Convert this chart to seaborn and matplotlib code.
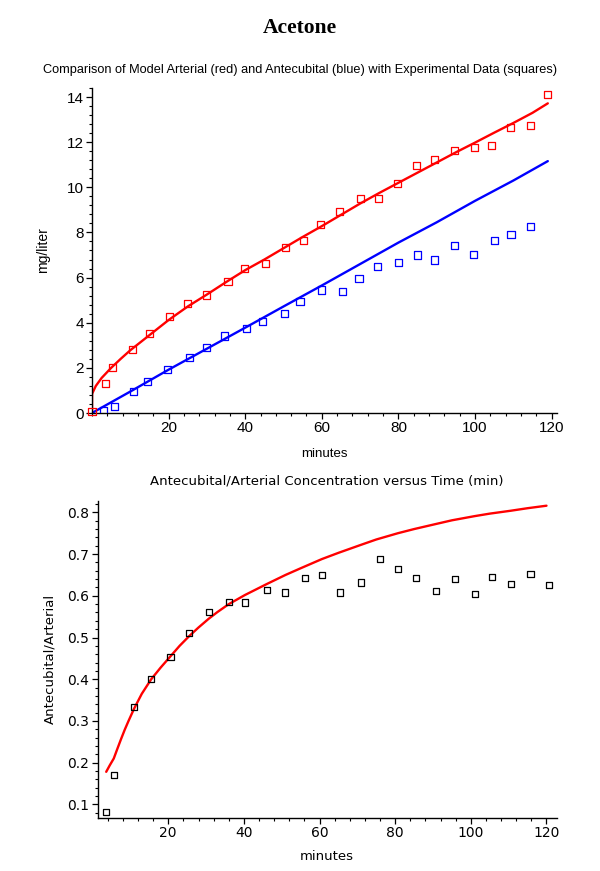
import matplotlib
matplotlib.use("Agg")
import matplotlib.pyplot as plt
from matplotlib.ticker import MultipleLocator
import seaborn as sns
import pandas as pd

sns.set_style("white")
plt.rcParams['font.family'] = ['Liberation Sans', 'DejaVu Sans']
for k in ("text.color", "axes.labelcolor", "xtick.color", "ytick.color", "axes.edgecolor"):
    plt.rcParams[k] = "black"

# ---- Top panel data (mg/liter vs minutes) ----
art_t = [0, 3.6, 5.3, 10.5, 15.1, 20.3, 24.9, 30.0, 35.5, 39.7, 45.4, 50.4, 55.1,
         59.6, 64.5, 70.0, 74.8, 79.8, 84.7, 89.5, 94.7, 99.8, 104.4, 109.2, 114.6, 118.9]
art_c = [0.05, 1.32, 2.02, 2.82, 3.53, 4.27, 4.86, 5.23, 5.82, 6.41, 6.63, 7.33, 7.66,
         8.37, 8.91, 9.50, 9.51, 10.16, 10.96, 11.22, 11.64, 11.76, 11.86, 12.67, 12.73, 14.12]

ant_t = [3.0, 5.8, 10.8, 14.4, 19.7, 25.5, 29.8, 34.5, 40.3, 44.5, 50.3, 54.3, 59.9,
         65.3, 69.7, 74.6, 80.0, 85.0, 89.3, 94.7, 99.6, 105.1, 109.4, 114.4]
ant_c = [0.09, 0.28, 0.94, 1.39, 1.91, 2.45, 2.91, 3.41, 3.74, 4.05, 4.42, 4.92, 5.45,
         5.38, 5.97, 6.51, 6.66, 7.00, 6.78, 7.41, 7.04, 7.63, 7.90, 8.27]

model_art_t = [0, 0.02, 1, 2.5, 5, 7.5, 10, 15, 20, 25, 30, 35, 40, 45, 50, 55, 60, 65, 70, 75,
               80, 85, 90, 95, 100, 105, 110, 115, 119]
model_art_c = [0, 0.85, 1.2, 1.55, 2.0, 2.4, 2.78, 3.45, 4.12, 4.72, 5.25, 5.8, 6.33, 6.8, 7.3,
               7.8, 8.28, 8.78, 9.28, 9.75, 10.2, 10.65, 11.1, 11.55, 11.98, 12.42,
               12.85, 13.3, 13.72]

model_ant_t = [0, 10, 20, 30, 40, 50, 60, 70, 80, 90, 100, 110, 119]
model_ant_c = [0, 0.95, 1.92, 2.85, 3.78, 4.72, 5.65, 6.6, 7.55, 8.45, 9.4, 10.3, 11.16]

# ---- Bottom panel data (ratio) ----
ratio_t = [3.6, 5.6, 11.0, 15.5, 20.6, 25.5, 30.7, 36.1, 40.3, 46.1, 50.9, 56.1, 60.6,
           65.4, 70.9, 75.9, 80.7, 85.6, 90.7, 95.9, 101.0, 105.5, 110.6, 115.8, 120.6]
ratio_v = [0.082, 0.170, 0.334, 0.401, 0.454, 0.511, 0.562, 0.586, 0.584, 0.613, 0.608,
           0.642, 0.650, 0.608, 0.632, 0.688, 0.664, 0.642, 0.611, 0.640, 0.604, 0.645,
           0.628, 0.652, 0.625]

model_ratio_t = [3.6, 4.5, 5.6, 6.5, 7.5, 8.5, 9.5, 11.0, 13.0, 15.5, 18.0, 20.6, 23.0,
                 25.5, 28.0, 30.7, 33.0, 36.0, 40.3, 46.0, 51.0, 55.0, 60.6, 65.0, 70.9,
                 75.0, 80.7, 85.0, 90.7, 95.0, 101.0, 105.0, 110.6, 115.0, 120.0]
model_ratio_v = [0.178, 0.193, 0.210, 0.232, 0.256, 0.279, 0.300, 0.330, 0.365, 0.400,
                 0.428, 0.455, 0.480, 0.503, 0.524, 0.545, 0.561, 0.580, 0.602, 0.628,
                 0.650, 0.666, 0.688, 0.703, 0.722, 0.735, 0.750, 0.760, 0.772, 0.781,
                 0.791, 0.797, 0.804, 0.810, 0.816]

fig = plt.figure(figsize=(6.0, 8.71), dpi=100)

fig.text(0.5, 1 - 28 / 871, "Acetone", ha="center", va="center",
         family=["Liberation Serif", "DejaVu Serif"], fontweight="bold", fontsize=15.5,
         color="black")
fig.text(0.5, 1 - 70 / 871,
         "Comparison of Model Arterial (red) and Antecubital (blue) with Experimental Data (squares)",
         ha="center", va="center", fontsize=9.2, color="black")

# ---- top axes ----
ax1 = fig.add_axes([92 / 600, 1 - 413 / 871, (557 - 92) / 600, (413 - 88) / 871])
sns.lineplot(x=model_art_t, y=model_art_c, ax=ax1, color="#ff0000", lw=1.7, sort=False)
sns.lineplot(x=model_ant_t, y=model_ant_c, ax=ax1, color="#0000ff", lw=1.7, sort=False)
sns.scatterplot(x=art_t, y=art_c, ax=ax1, marker="s", s=26, fc="none", ec="#ff0000",
                linewidth=0.9, zorder=3, clip_on=False)
sns.scatterplot(x=ant_t, y=ant_c, ax=ax1, marker="s", s=26, fc="none", ec="#0000ff",
                linewidth=0.9, zorder=3)
ax1.set_xlim(0, 121.4)
ax1.set_ylim(0, 14.4)
ax1.xaxis.set_major_locator(MultipleLocator(20))
ax1.xaxis.set_minor_locator(MultipleLocator(4))
ax1.yaxis.set_major_locator(MultipleLocator(2))
ax1.yaxis.set_minor_locator(MultipleLocator(0.4))
ax1.set_xticks([20, 40, 60, 80, 100, 120])
ax1.set_xlabel("minutes", fontsize=9.5, labelpad=9)
ax1.set_ylabel("mg/liter", fontsize=10, labelpad=12)
for lab in ax1.get_xticklabels() + ax1.get_yticklabels():
    lab.set_fontsize(11)

# ---- bottom axes ----
ax2 = fig.add_axes([97.7 / 600, 1 - 817.7 / 871, (556.7 - 97.7) / 600, (817.7 - 500.7) / 871])
sns.lineplot(x=model_ratio_t, y=model_ratio_v, ax=ax2, color="#ff0000", lw=1.7, sort=False)
sns.scatterplot(x=ratio_t, y=ratio_v, ax=ax2, marker="s", s=20, fc="none", ec="black",
                linewidth=0.9, zorder=3)
ax2.set_xlim(1.35, 122.7)
ax2.set_ylim(0.068, 0.828)
ax2.xaxis.set_major_locator(MultipleLocator(20))
ax2.xaxis.set_minor_locator(MultipleLocator(4))
ax2.yaxis.set_major_locator(MultipleLocator(0.1))
ax2.yaxis.set_minor_locator(MultipleLocator(0.02))
ax2.set_xticks([20, 40, 60, 80, 100, 120])
ax2.set_yticks([0.1, 0.2, 0.3, 0.4, 0.5, 0.6, 0.7, 0.8])
ax2.set_yticklabels(["0.1", "0.2", "0.3", "0.4", "0.5", "0.6", "0.7", "0.8"])
ax2.set_title("Antecubital/Arterial Concentration versus Time (min)", fontsize=9.5,
              family=["DejaVu Sans"], pad=12, color="black")
ax2.set_xlabel("minutes", fontsize=9.5, family=["DejaVu Sans"], labelpad=7)
ax2.set_ylabel("Antecubital/Arterial", fontsize=9.5, family=["DejaVu Sans"], labelpad=8)
for lab in ax2.get_xticklabels() + ax2.get_yticklabels():
    lab.set_family(["DejaVu Sans"])
    lab.set_fontsize(10)

for ax in (ax1, ax2):
    sns.despine(ax=ax)
    for s in ("left", "bottom"):
        ax.spines[s].set_color("black")
        ax.spines[s].set_linewidth(1.0)
    ax.tick_params(which="major", direction="out", length=4, width=0.9, color="black",
                   left=True, bottom=True, pad=2)
    ax.tick_params(which="minor", direction="out", length=2.5, width=0.8, color="black",
                   left=True, bottom=True)
    ax.grid(False)

fig.savefig("out.png", dpi=100)
